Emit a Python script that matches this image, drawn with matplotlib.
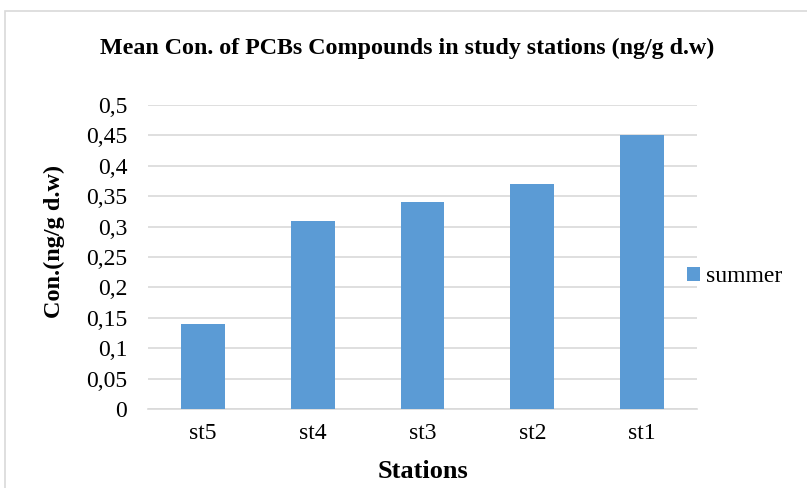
import numpy as np
import matplotlib.pyplot as plt
from matplotlib.patches import Rectangle

stations = ["st5", "st4", "st3", "st2", "st1"]
summer = [0.14, 0.31, 0.34, 0.37, 0.45]
y_ticks = [0, 0.05, 0.1, 0.15, 0.2, 0.25, 0.3, 0.35, 0.4, 0.45, 0.5]

plt.rcParams['font.family'] = ['Liberation Serif', 'DejaVu Serif']

fig = plt.figure(figsize=(8.07, 4.88), dpi=100)
ax = fig.add_axes([148 / 807, 1 - 409 / 488, 549 / 807, 304 / 488])

x = np.arange(len(stations))
ax.bar(x, summer, width=0.4, color='#5B9BD5', label='summer', zorder=3)

ax.set_xlim(-0.5, len(stations) - 0.5)
ax.set_ylim(0, 0.5)
ax.set_yticks(y_ticks)
ax.set_yticklabels([("%g" % v).replace('.', ',') for v in y_ticks], fontsize=17)
ax.set_xticks(x)
ax.set_xticklabels(stations, fontsize=17)
ax.tick_params(length=0)
ax.tick_params(axis='x', pad=10)
ax.tick_params(axis='y', pad=15)
ax.grid(axis='y', color='#d9d9d9', linewidth=1.2, zorder=0)
for s in ['top', 'right', 'left']:
    ax.spines[s].set_visible(False)
ax.spines['bottom'].set_color('#d9d9d9')
ax.spines['bottom'].set_linewidth(1.2)

# axis titles and chart title
fig.text(423 / 807, 1 - 472 / 488, "Stations", ha='center', va='center',
         fontsize=19, fontweight='bold')
fig.text(54 / 807, 1 - 241 / 488, "Con.(ng/g d.w)", ha='center', va='center',
         rotation=90, fontsize=17.5, fontweight='bold')
fig.text(407 / 807, 1 - 48 / 488, "Mean Con. of PCBs Compounds in study stations (ng/g d.w)",
         ha='center', va='center', fontsize=17.3, fontweight='bold')

ax.legend(loc='center left', bbox_to_anchor=(530 / 549, (409 - 277) / 304), frameon=False,
          fontsize=17, handlelength=0.55, handleheight=0.55, handletextpad=0.25, borderaxespad=0)

fig.patches.append(Rectangle((5 / 807, -0.1), 2, 1 - 11 / 488 + 0.1, transform=fig.transFigure,
                             fill=False, edgecolor='#d9d9d9', linewidth=1.2))

fig.savefig("out.png", dpi=100)
